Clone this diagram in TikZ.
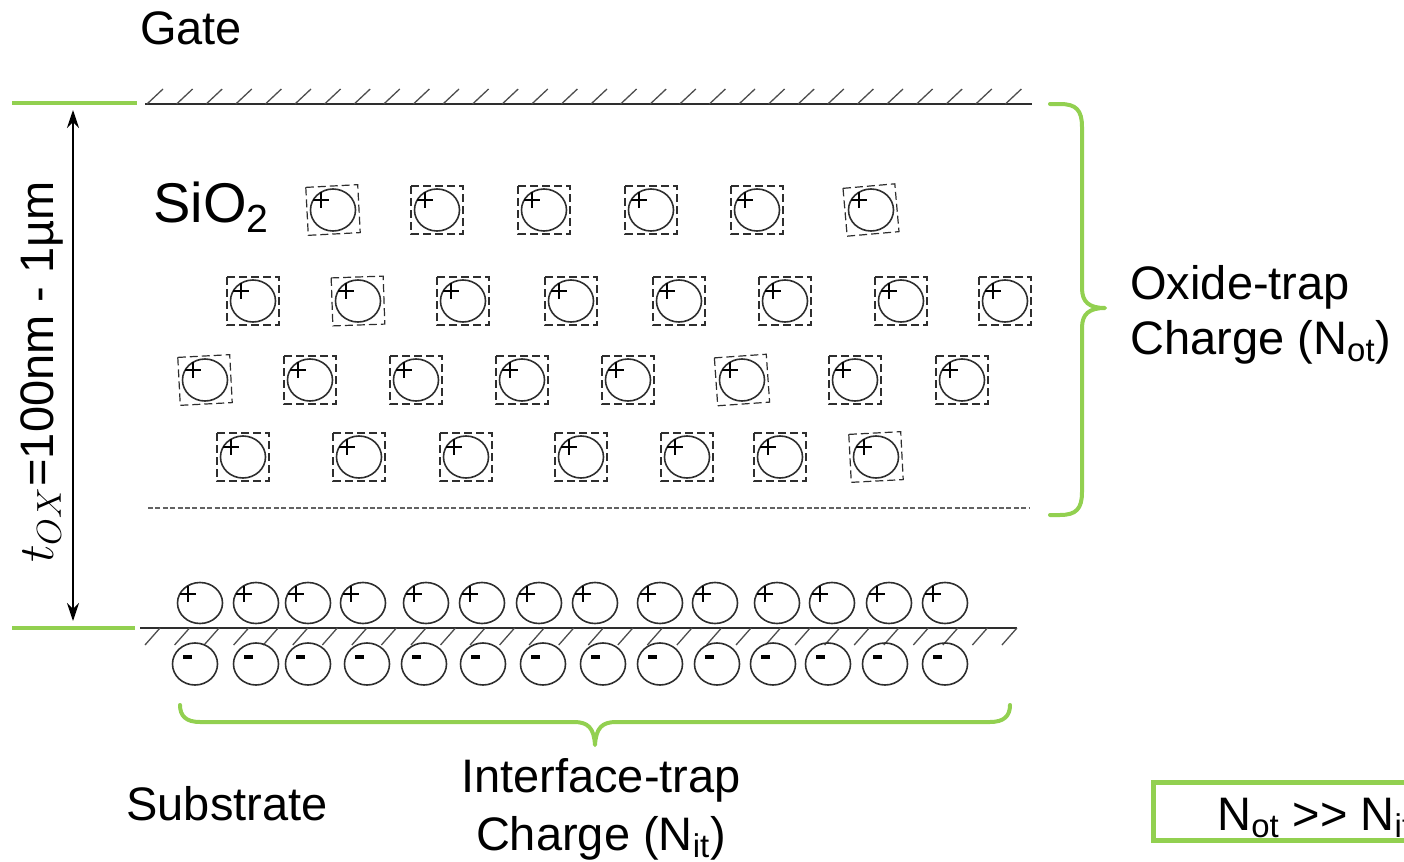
\documentclass[tikz,border=0pt]{standalone}
\usepackage{fontspec}
\setmainfont{Liberation Sans}
\usetikzlibrary{arrows.meta}

\definecolor{lgreen}{HTML}{92D050}
\definecolor{ink}{HTML}{2E2E2E}

\tikzset{
  lbl/.style={font=\fontsize{23.5}{28}\selectfont, inner sep=0pt},
  hatch/.style={line width=0.65pt, draw=ink!85},
  wall/.style={line width=1.05pt, draw=ink},
  trapbox/.style={draw=ink, line width=0.6pt, dash pattern=on 4pt off 2pt},
  charge/.style={draw=ink, line width=0.8pt},
  sign/.style={draw=black, line width=1.45pt},
  greenline/.style={draw=lgreen, line width=1.6pt},
  gbrace/.style={draw=lgreen, line width=2pt, line cap=round, line join=round},
}

% trapped oxide charge: dashed box, circle, plus sign (x, y, box rotation)
\newcommand\oxtrap[3]{%
  \begin{scope}[shift={(#1,#2)}]
    \draw[trapbox, rotate=#3] (-26,-24) rectangle (26,24);
    \draw[charge] (0,0) ellipse [x radius=22.5, y radius=21];
    \draw[sign] (-20,-10) -- (-4,-10) (-12,-18) -- (-12,-2);
  \end{scope}}
% positive interface charge
\newcommand\poscharge[2]{%
  \begin{scope}[shift={(#1,#2)}]
    \draw[charge] (0,0) ellipse [x radius=22.5, y radius=20.5];
    \draw[sign] (-20,-9) -- (-4,-9) (-12,-17) -- (-12,-1);
  \end{scope}}
% negative interface charge
\newcommand\negcharge[2]{%
  \begin{scope}[shift={(#1,#2)}]
    \draw[charge] (0,0) ellipse [x radius=22.5, y radius=21];
    \draw[sign, line width=1.6pt] (-12,-7) -- (-3,-7);
  \end{scope}}

\begin{document}
\begin{tikzpicture}[x=0.5pt, y=-0.5pt]
  \useasboundingbox (0,0) rectangle (1404,862);

  % gate electrode with hatching
  \draw[wall] (145,104) -- (1032,104);
  \foreach \k in {0,...,29}
    \draw[hatch] (147+29.6*\k,104) -- ++(16,-15);

  % substrate surface with hatching
  \draw[wall] (140,628) -- (1017,628);
  \foreach \k in {0,...,29}
    \draw[hatch] (160+29.55*\k,628) -- ++(-15,17);

  % oxide / interface boundary
  \draw[line width=0.6pt, draw=ink!75, dash pattern=on 2.5pt off 1.2pt]
    (148,508) -- (1030,508);

  % thickness markers
  \draw[greenline] (12,103) -- (137,103);
  \draw[greenline] (12,628) -- (135,628);
  \coordinate (ttop) at (73,110);
  \coordinate (tbot) at (73,621);
  \draw[line width=0.8pt, {Stealth[length=9pt,width=6pt]}-{Stealth[length=9pt,width=6pt]}]
    (ttop) -- (tbot);
  \node[lbl, rotate=90] (tox) at (42,372) {$t_{OX}$=100nm - 1µm};

  % labels
  \node[lbl, anchor=base] (gate) at (191,45) {Gate};
  \node[lbl, anchor=base west, font=\fontsize{28}{32}\selectfont] (sio) at (153,222)
    {SiO\textsubscript{2}};
  \node[lbl, anchor=base west] (ox1) at (1130,299) {Oxide-trap};
  \node[lbl, anchor=base west] (ox2) at (1130,354) {Charge (N\textsubscript{ot})};
  \node[lbl, anchor=base] (it1) at (601,792) {Interface-trap};
  \node[lbl, anchor=base] (it2) at (601,850) {Charge (N\textsubscript{it})};
  \node[lbl, anchor=base] (sub) at (227,820) {Substrate};

  % oxide traps
  \foreach \x/\r in {333/3, 437/0, 544/0, 651/0, 757/0, 871/5}
    \oxtrap{\x}{210}{\r};
  \foreach \x/\r in {253/0, 358/2, 463/0, 571/0, 679/0, 785/0, 901/0, 1005/0}
    \oxtrap{\x}{301}{\r};
  \foreach \x/\r in {205/3, 310/0, 416/0, 522/0, 628/0, 742/4, 855/0, 962/0}
    \oxtrap{\x}{380}{\r};
  \foreach \x/\r in {243/0, 359/0, 466/0, 581/0, 687/0, 780/0, 876/3}
    \oxtrap{\x}{457}{\r};

  % interface charges
  \foreach \x in {200,256,308,363,426,482,539,595,660,715,777,832,889,945}
    \poscharge{\x}{603};
  \foreach \x in {195,256,308,367,424,483,543,603,660,717,773,828,885,945}
    \negcharge{\x}{664};

  % brace over the oxide traps
  \coordinate (bt) at (1050,104);
  \coordinate (bm) at (1105,308);
  \coordinate (bb) at (1050,515);
  \draw[gbrace] (bt) -- (1060,104) .. controls (1076,104) and (1082,110) .. (1082,127)
    -- (1082,288) .. controls (1082,302) and (1089,308) .. (bm)
    .. controls (1089,308) and (1082,314) .. (1082,328)
    -- (1082,492) .. controls (1082,509) and (1076,515) .. (1060,515) -- (bb);

  % brace under the interface charges
  \coordinate (bl) at (180,705);
  \coordinate (bn) at (595,745);
  \coordinate (br) at (1010,705);
  \draw[gbrace] (bl) .. controls (180,716) and (186,722) .. (200,722)
    -- (574,722) .. controls (588,722) and (594,728) .. (bn)
    .. controls (596,728) and (602,722) .. (616,722)
    -- (990,722) .. controls (1004,722) and (1010,716) .. (br);

  % comparison box
  \draw[draw=lgreen, line width=2.5pt] (1153,782) rectangle (1430,840);
  \node[lbl, anchor=base west, font=\fontsize{23.5}{28}\selectfont] (cmp) at (1217,830)
    {N\textsubscript{ot} >{}> N\textsubscript{it}};
\end{tikzpicture}
\end{document}
